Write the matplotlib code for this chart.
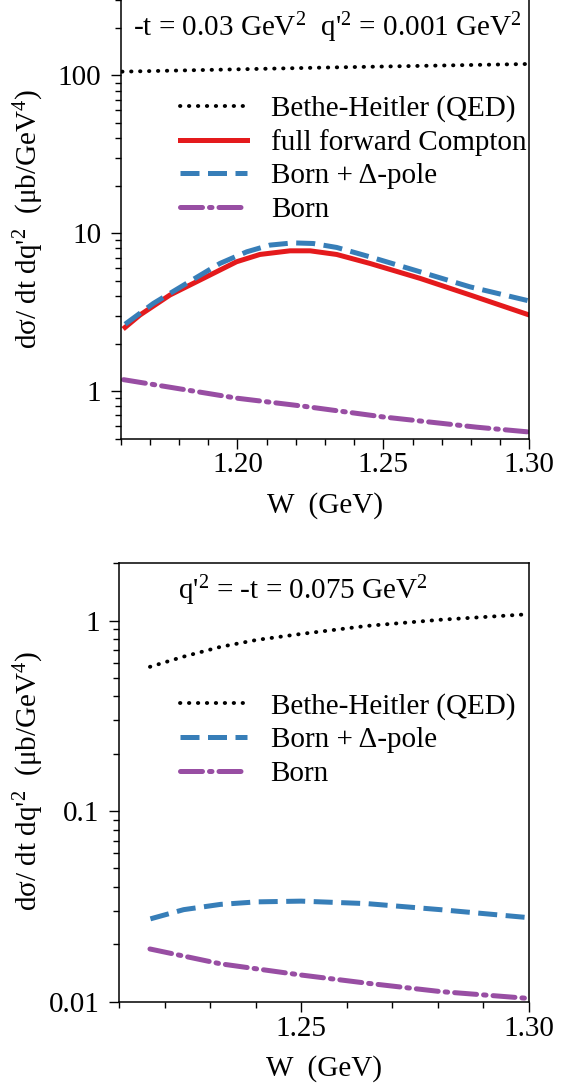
import matplotlib
matplotlib.use("Agg")
import matplotlib.pyplot as plt
from matplotlib.ticker import FixedLocator, NullFormatter, LogLocator

plt.rcParams['font.family'] = ['Liberation Serif', 'DejaVu Serif']
plt.rcParams['mathtext.fontset'] = 'custom'
plt.rcParams['mathtext.rm'] = 'Liberation Serif'
plt.rcParams['mathtext.it'] = 'Liberation Serif:italic'
plt.rcParams['font.size'] = 21

RED = '#e41a1c'
BLUE = '#377eb8'
PURPLE = '#984ea3'

# upper panel: -t = 0.03 GeV^2, q'^2 = 0.001 GeV^2
w_bh_a = [1.1605, 1.23, 1.30]
bh_a = [105.5, 112.0, 118.0]
w_full_a = [1.1615, 1.1666, 1.1769, 1.1883, 1.1997, 1.2077, 1.218, 1.2249,
            1.234, 1.2454, 1.2626, 1.2797, 1.30]
full_a = [2.53, 3.03, 4.06, 5.17, 6.59, 7.33, 7.73, 7.73, 7.33, 6.43, 5.17, 4.06, 3.03]
w_delta_a = [1.1615, 1.1712, 1.1826, 1.194, 1.2032, 1.2111, 1.2191, 1.226,
             1.234, 1.2454, 1.2626, 1.2797, 1.30]
delta_a = [2.65, 3.59, 4.81, 6.43, 7.62, 8.40, 8.68, 8.60, 8.12, 7.08, 5.69, 4.57, 3.72]
w_born_a = [1.1610, 1.20, 1.2229, 1.25, 1.282, 1.30]
born_a = [1.18, 0.90, 0.80, 0.685, 0.59, 0.55]

# lower panel: q'^2 = -t = 0.075 GeV^2
w_bh_b = [1.2168, 1.2242, 1.2323, 1.2403, 1.25, 1.2645, 1.2806, 1.30]
bh_b = [0.572, 0.647, 0.728, 0.792, 0.851, 0.938, 1.01, 1.08]
w_delta_b = [1.2169, 1.2242, 1.2323, 1.2403, 1.25, 1.2645, 1.2806, 1.30]
delta_b = [0.0272, 0.0304, 0.0324, 0.0334, 0.0337, 0.0327, 0.0304, 0.0276]
w_born_b = [1.2168, 1.2323, 1.25, 1.2645, 1.2806, 1.30]
born_b = [0.0189, 0.0158, 0.0138, 0.0125, 0.0113, 0.0104]

ylabel = "dσ/ dt dq'$^2$  (μb/GeV$^4$)"

dotted = dict(color='black', lw=2.8, linestyle=(0, (0.1, 2.2)), dash_capstyle='round')
dashed = dict(color=BLUE, lw=3.6, linestyle=(0, (3.8, 1.7)))
dashdot = dict(color=PURPLE, lw=3.6, linestyle=(0, (4.4, 1.4, 0.5, 1.4)), dash_capstyle='round')
solid = dict(color=RED, lw=3.6)

fig = plt.figure(figsize=(5.75, 10.89), dpi=100)
ax1 = fig.add_axes([0.2099, 0.5973, 0.7106, 0.4027])
ax2 = fig.add_axes([0.2070, 0.0802, 0.7122, 0.4026])


def style(ax):
    ax.set_yscale('log')
    for s in ax.spines.values():
        s.set_linewidth(1.1)
    ax.tick_params(which='major', direction='out', length=7, width=1.0, pad=3)
    ax.tick_params(which='minor', direction='out', length=4.3, width=1.0)
    ax.tick_params(axis='y', which='major', pad=7)
    ax.yaxis.set_minor_locator(LogLocator(base=10, subs=range(2, 10)))
    ax.yaxis.set_minor_formatter(NullFormatter())
    ax.set_xlabel('W  (GeV)', labelpad=10)
    ax.set_ylabel(ylabel)


# upper panel
ax1.plot(w_bh_a, bh_a, label='Bethe-Heitler (QED)', **dotted)
ax1.plot(w_full_a, full_a, label='full forward Compton', **solid)
ax1.plot(w_delta_a, delta_a, label='Born + Δ-pole', **dashed)
ax1.plot(w_born_a, born_a, label='Born', **dashdot)
style(ax1)
ax1.spines['top'].set_visible(False)
ax1.set_xlim(1.16, 1.30)
ax1.set_ylim(0.5, 300)
ax1.xaxis.set_major_locator(FixedLocator([1.20, 1.25, 1.30]))
ax1.xaxis.set_minor_locator(FixedLocator([1.16 + 0.01 * i for i in range(15)]))
ax1.set_xticklabels(['1.20', '1.25', '1.30'])
ax1.set_yticks([1, 10, 100])
ax1.set_yticklabels(['1', '10', '100'])
ax1.yaxis.set_label_coords(-0.183, 0.5)
ax1.text(0.03, 0.918, "-t = 0.03 GeV$^2$  q'$^2$ = 0.001 GeV$^2$",
         transform=ax1.transAxes, ha='left', va='baseline')
ax1.legend(loc='upper left', bbox_to_anchor=(0.145, 0.783), frameon=False,
           borderpad=0, borderaxespad=0, handlelength=2.3, handletextpad=0.82,
           labelspacing=0.24)

# lower panel
ax2.plot(w_bh_b, bh_b, label='Bethe-Heitler (QED)', **dotted)
ax2.plot(w_delta_b, delta_b, label='Born + Δ-pole', **dashed)
ax2.plot(w_born_b, born_b, label='Born', **dashdot)
style(ax2)
ax2.set_xlim(1.21, 1.30)
ax2.set_ylim(0.01, 2)
ax2.xaxis.set_major_locator(FixedLocator([1.25, 1.30]))
ax2.xaxis.set_minor_locator(FixedLocator([1.21 + 0.01 * i for i in range(10)]))
ax2.set_xticklabels(['1.25', '1.30'])
ax2.set_yticks([0.01, 0.1, 1])
ax2.set_yticklabels(['0.01', '0.1', '1'])
ax2.yaxis.set_label_coords(-0.178, 0.503)
ax2.text(0.143, 0.9186, "q'$^2$ = -t = 0.075 GeV$^2$",
         transform=ax2.transAxes, ha='left', va='baseline')
ax2.legend(loc='upper left', bbox_to_anchor=(0.148, 0.704), frameon=False,
           borderpad=0, borderaxespad=0, handlelength=2.3, handletextpad=0.82,
           labelspacing=0.24)

fig.savefig('out.png', dpi=100)
